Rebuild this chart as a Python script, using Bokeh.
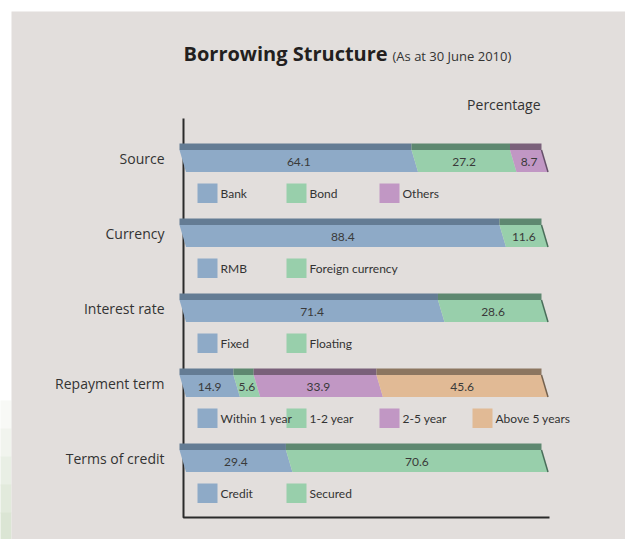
from bokeh.plotting import figure
from bokeh.models import Range1d
from bokeh.core.properties import value
from bokeh.embed import file_html
from bokeh.resources import INLINE

# ---- data ----
categories = ["Source", "Currency", "Interest rate", "Repayment term", "Terms of credit"]
source_labels = ["Bank", "Bond", "Others"]
source_values = [64.1, 27.2, 8.7]
currency_labels = ["RMB", "Foreign currency"]
currency_values = [88.4, 11.6]
rate_labels = ["Fixed", "Floating"]
rate_values = [71.4, 28.6]
term_labels = ["Within 1 year", "1-2 year", "2-5 year", "Above 5 years"]
term_values = [14.9, 5.6, 33.9, 45.6]
credit_labels = ["Credit", "Secured"]
credit_values = [29.4, 70.6]

title_text = "Borrowing Structure"
subtitle_text = "(As at 30 June 2010)"
unit_text = "Percentage"

groups = [
    (source_labels, source_values),
    (currency_labels, currency_values),
    (rate_labels, rate_values),
    (term_labels, term_values),
    (credit_labels, credit_values),
]

# ---- styles ----
face_colors = ["#8eaac7", "#98cfab", "#c197c4", "#e1ba95"]
strip_colors = ["#647c94", "#5e8870", "#7a607a", "#8c7660"]
edge_colors = ["#4e6275", "#4a6e5a", "#66506a", "#74624f"]
BG = "#e2dedc"
W, H = 625, 539
X0 = 179.0          # pixel of 0%
PX = 3.62           # pixels per percent


def dx(px):
    return (px - X0) / PX


SKEW = 6.5 / PX
NARROW = value("Lato")

p = figure(width=W, height=H, output_backend="svg", toolbar_location=None,
           x_range=Range1d(dx(0), dx(W)), y_range=Range1d(H, 0),
           min_border=0, background_fill_color="white", border_fill_color="white")
p.axis.visible = False
p.grid.visible = False
p.outline_line_color = None

# faint green tint at the bottom-left margin
tints = ["#f8f9f6", "#f1f4ee", "#e9efe5", "#e2eadc", "#dbe5d4"]
for k, c in enumerate(tints):
    p.quad(left=[dx(-5)], right=[dx(11)], top=[400 + k * 28], bottom=[428 + k * 28 + 1],
           fill_color=c, line_color=None)

# panel
p.quad(left=[dx(11)], right=[dx(W + 5)], top=[11], bottom=[H + 5],
       fill_color=BG, line_color=None)

# title
p.text(x=[dx(183)], y=[53], text=[title_text], text_font=value("Open Sans"),
       text_font_style="bold", text_font_size="20px", text_color="#231f20",
       text_baseline="middle", text_align="left")
p.text(x=[dx(392)], y=[55], text=[subtitle_text], text_font=value("Open Sans"),
       text_font_size="13px", text_color="#333333",
       text_baseline="middle", text_align="left")
p.text(x=[dx(540)], y=[104], text=[unit_text], text_font=value("Open Sans"),
       text_font_size="14px", text_color="#333333",
       text_baseline="middle", text_align="right")

# axes lines
p.line(x=[dx(183), dx(183), dx(549)], y=[118, 517, 517], line_color="#2a2a2a", line_width=2)

STRIP = 6.5
FACE = 22.0
legend_cols = [197, 286, 379, 472]

for i, (cat, (labs, vals)) in enumerate(zip(categories, groups)):
    T = 143 + 75 * i
    # category label
    p.text(x=[dx(164)], y=[T + 15], text=[cat], text_font=value("Open Sans"),
           text_font_size="14px", text_color="#333333",
           text_baseline="middle", text_align="right")
    cum = 0.0
    for j, v in enumerate(vals):
        a, b = cum, cum + v
        cum = b
        p.quad(left=[a], right=[b], top=[T], bottom=[T + STRIP],
               fill_color=strip_colors[j], line_color=None)
        p.patch(x=[a, b, b + SKEW, a + SKEW], y=[T + STRIP, T + STRIP, T + STRIP + FACE, T + STRIP + FACE],
                fill_color=face_colors[j], line_color=None)
        p.text(x=[(a + b) / 2 + SKEW / 2], y=[T + STRIP + FACE / 2 + 0.5], text=["%.1f" % v],
               text_font=NARROW, text_font_size="12px", text_color="#3a3a3a",
               text_baseline="middle", text_align="center")
        lx = legend_cols[j]
        p.quad(left=[dx(lx)], right=[dx(lx + 20)], top=[T + 40], bottom=[T + 59.5],
               fill_color=face_colors[j], line_color=None)
    # right side edge
    last = len(vals) - 1
    p.line(x=[cum, cum + SKEW], y=[T + STRIP, T + STRIP + FACE],
           line_color=edge_colors[last], line_width=1.5)

# legend texts on top of squares
for i, labs in enumerate([g[0] for g in groups]):
    T = 143 + 75 * i
    for j, lab in enumerate(labs):
        lx = legend_cols[j]
        p.text(x=[dx(lx + 23)], y=[T + 50], text=[lab], text_font=NARROW,
               text_font_size="12px", text_color="#333333",
               text_baseline="middle", text_align="left")

open("out.html", "w").write(file_html(p, INLINE))
